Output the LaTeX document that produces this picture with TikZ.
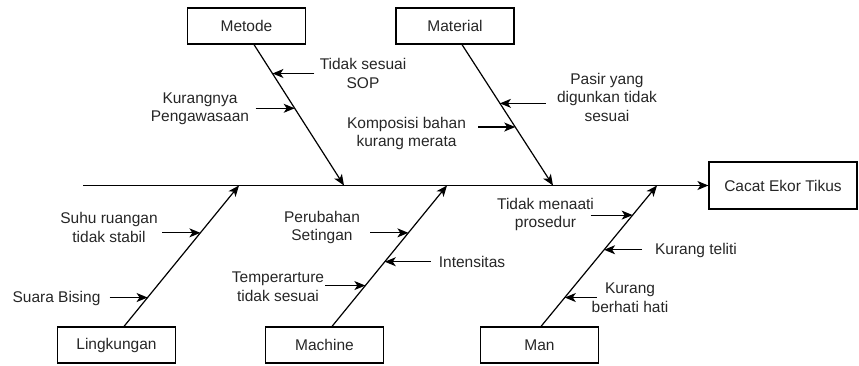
\documentclass[tikz,border=0pt]{standalone}
\usepackage{fontspec}
\setmainfont{Liberation Sans}
\usetikzlibrary{
  positioning,
  calc,
  arrows.meta
}
\tikzset{
  every node/.style={font=\fontsize{15.5}{18.5}\selectfont, text=black!85},
  category/.style={draw, line width=1.2pt, minimum width=118pt, minimum height=36pt, inner sep=0pt},
  cause/.style={align=center, inner sep=0pt},
  bone/.style={-{Stealth[length=11pt,width=9pt,inset=3pt]}, line width=1.2pt},
  sub/.style={-{Stealth[length=11pt,width=9pt,inset=3pt]}, line width=1.1pt}
}

\begin{document}
\begin{tikzpicture}[x=1pt, y=-1pt]
    \useasboundingbox (0,0) rectangle (859,365);

    % categories and effect
    \node[category]                  (metode)     at (246.5,26)  {Metode};
    \node[category]                  (material)   at (455,26)    {Material};
    \node[category]                  (lingkungan) at (116.5,345) {Lingkungan};
    \node[category]                  (machine)    at (324.5,345) {Machine};
    \node[category]                  (man)        at (539.5,345) {Man};
    \node[category, minimum width=148pt, minimum height=47pt]
                                     (cacat)      at (783,185.5) {Cacat Ekor Tikus};

    % spine and bones
    \coordinate (tail) at (83,185.5);
    \draw[bone] (tail) -- (cacat.west);

    \coordinate (metode-s)     at ([xshift=7.5pt]metode.south);
    \coordinate (metode-e)     at (344,185.5);
    \coordinate (material-s)   at ([xshift=7pt]material.south);
    \coordinate (material-e)   at (553,185.5);
    \coordinate (lingkungan-s) at ([xshift=7.5pt]lingkungan.north);
    \coordinate (lingkungan-e) at (239,185.5);
    \coordinate (machine-s)    at ([xshift=7.5pt]machine.north);
    \coordinate (machine-e)    at (447,185.5);
    \coordinate (man-s)        at ([xshift=1.5pt]man.north);
    \coordinate (man-e)        at (657,185.5);

    \draw[bone] (metode-s)     -- (metode-e);
    \draw[bone] (material-s)   -- (material-e);
    \draw[bone] (lingkungan-s) -- (lingkungan-e);
    \draw[bone] (machine-s)    -- (machine-e);
    \draw[bone] (man-s)        -- (man-e);

    % causes
    \node[cause] (sop)         at (363,73.5)  {Tidak sesuai\\SOP};
    \node[cause] (pengawasan)  at (200,109)   {Kurangnya\\Pengawasaan};
    \node[cause] (pasir)       at (607,97)    {Pasir yang\\digunkan tidak\\sesuai};
    \node[cause] (komposisi)   at (406.5,133.5) {Komposisi bahan\\kurang merata};
    \node[cause] (suhu)        at (109,227.5) {Suhu ruangan\\tidak stabil};
    \node[cause] (suara)       at (56.5,298)  {Suara Bising};
    \node[cause] (perubahan)   at (322,227.5) {Perubahan\\Setingan};
    \node[cause] (intensitas)  at (472,262)   {Intensitas};
    \node[cause] (temperatur)  at (278,286.5) {Temperarture\\tidak sesuai};
    \node[cause] (prosedur)    at (545.5,214.5) {Tidak menaati\\prosedur};
    \node[cause] (teliti)      at (696,250)   {Kurang teliti};
    \node[cause] (berhati)     at (630,297.5) {Kurang\\berhati hati};

    % cause arrows
    \coordinate (sop-t)        at ($(metode-s)!0.205!(metode-e)$);
    \coordinate (pengawasan-t) at ($(metode-s)!0.452!(metode-e)$);
    \coordinate (pasir-t)      at ($(material-s)!0.417!(material-e)$);
    \coordinate (komposisi-t)  at ($(material-s)!0.585!(material-e)$);
    \coordinate (suhu-t)       at ($(lingkungan-s)!0.664!(lingkungan-e)$);
    \coordinate (suara-t)      at ($(lingkungan-s)!0.205!(lingkungan-e)$);
    \coordinate (perubahan-t)  at ($(machine-s)!0.664!(machine-e)$);
    \coordinate (intensitas-t) at ($(machine-s)!0.459!(machine-e)$);
    \coordinate (temperatur-t) at ($(machine-s)!0.290!(machine-e)$);
    \coordinate (prosedur-t)   at ($(man-s)!0.79!(man-e)$);
    \coordinate (teliti-t)     at ($(man-s)!0.544!(man-e)$);
    \coordinate (berhati-t)    at ($(man-s)!0.205!(man-e)$);

    \draw[sub] ([xshift=42pt]sop-t)         -- (sop-t);
    \draw[sub] ([xshift=-39pt]pengawasan-t) -- (pengawasan-t);
    \draw[sub] ([xshift=46pt]pasir-t)       -- (pasir-t);
    \draw[sub] ([xshift=-37pt]komposisi-t)  -- (komposisi-t);
    \draw[sub] ([xshift=-38pt]suhu-t)       -- (suhu-t);
    \draw[sub] ([xshift=-38pt]suara-t)      -- (suara-t);
    \draw[sub] ([xshift=-38pt]perubahan-t)  -- (perubahan-t);
    \draw[sub] ([xshift=46pt]intensitas-t)  -- (intensitas-t);
    \draw[sub] ([xshift=-40pt]temperatur-t) -- (temperatur-t);
    \draw[sub] ([xshift=-42pt]prosedur-t)   -- (prosedur-t);
    \draw[sub] ([xshift=38pt]teliti-t)      -- (teliti-t);
    \draw[sub] ([xshift=32pt]berhati-t)     -- (berhati-t);
\end{tikzpicture}
\end{document}
